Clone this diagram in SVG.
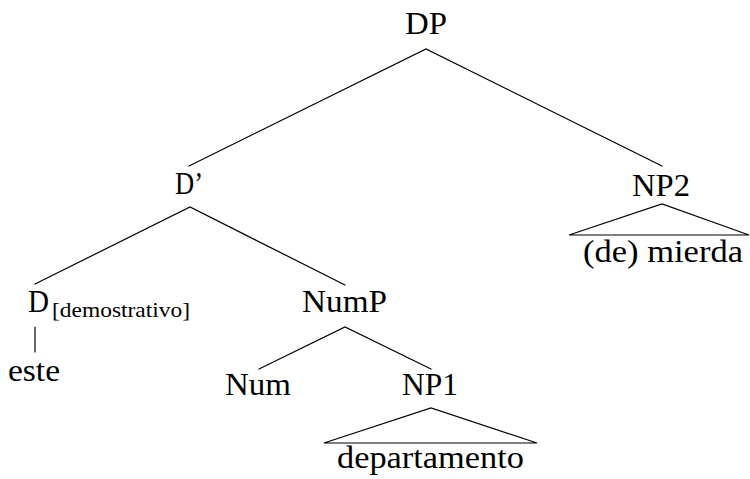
<svg xmlns="http://www.w3.org/2000/svg" width="750" height="479" viewBox="0 0 750 479">
  <style>
    .t { font-family: 'Liberation Serif', Tinos, 'Times New Roman', 'DejaVu Serif', 'Noto Serif', FreeSerif, serif; font-size: 31px; fill: #000; }
    .s { font-family: 'Liberation Serif', Tinos, 'Times New Roman', 'DejaVu Serif', 'Noto Serif', FreeSerif, serif; font-size: 21px; fill: #000; }
    .e { stroke: #000; stroke-width: 1.2; fill: none; stroke-linecap: round; stroke-linejoin: miter; }
  </style>
  <rect width="750" height="479" fill="#fff"/>
  <g id="connectors">
    <polyline class="e" points="189,166 426,49 662,166"/>
    <polyline class="e" points="35,284 190,207 345,285"/>
    <line class="e" x1="35" y1="327" x2="35" y2="352"/>
    <polyline class="e" points="259,369 345,327 431,369"/>
    <polygon class="e" points="324,443 431,408 537,443"/>
    <polygon class="e" points="569,235 662,204 749,235"/>
  </g>
  <g id="node-DP"><text class="t" x="405" y="34" textLength="42" lengthAdjust="spacingAndGlyphs">DP</text></g>
  <g id="node-Dbar"><text class="t" x="175" y="194" textLength="28" lengthAdjust="spacingAndGlyphs">D’</text></g>
  <g id="node-NP2"><text class="t" x="632" y="196" textLength="58" lengthAdjust="spacingAndGlyphs">NP2</text></g>
  <g id="node-NP2-leaf"><text class="t" x="583" y="262" textLength="160" lengthAdjust="spacingAndGlyphs">(de) mierda</text></g>
  <g id="node-D">
    <text class="t" x="28" y="312" textLength="21" lengthAdjust="spacingAndGlyphs">D</text>
    <text class="s" x="52" y="317" textLength="138" lengthAdjust="spacingAndGlyphs">[demostrativo]</text>
  </g>
  <g id="node-este"><text class="t" x="8" y="381" textLength="52" lengthAdjust="spacingAndGlyphs">este</text></g>
  <g id="node-NumP"><text class="t" x="302" y="312" textLength="85" lengthAdjust="spacingAndGlyphs">NumP</text></g>
  <g id="node-Num"><text class="t" x="225" y="395" textLength="66" lengthAdjust="spacingAndGlyphs">Num</text></g>
  <g id="node-NP1"><text class="t" x="402" y="395" textLength="56" lengthAdjust="spacingAndGlyphs">NP1</text></g>
  <g id="node-NP1-leaf"><text class="t" x="337" y="468" textLength="187" lengthAdjust="spacingAndGlyphs">departamento</text></g>
</svg>
